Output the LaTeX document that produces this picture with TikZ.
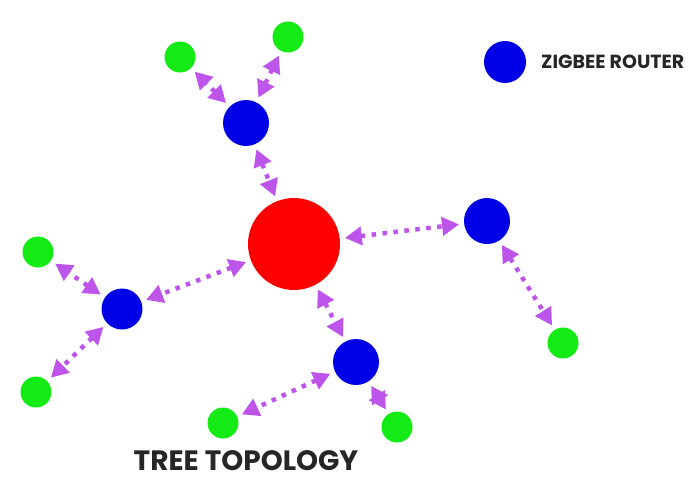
\documentclass[tikz,border=0pt]{standalone}
\usepackage{fontspec}
\setmainfont{Poppins}
\usetikzlibrary{arrows.meta}
\definecolor{linkc}{RGB}{190,85,235}
\definecolor{hubred}{RGB}{255,0,0}
\definecolor{routerblue}{RGB}{0,0,230}
\definecolor{enddevgreen}{RGB}{20,235,20}
\tikzset{
  hub/.style={circle, fill=hubred, minimum size=92pt, inner sep=0pt},
  router/.style={circle, fill=routerblue, minimum size=46pt, inner sep=0pt},
  smallrouter/.style={circle, fill=routerblue, minimum size=41pt, inner sep=0pt},
  enddev/.style={circle, fill=enddevgreen, minimum size=31pt, inner sep=0pt},
  link/.style={draw=linkc, line width=4.5pt, dash pattern=on 4.5pt off 6.5pt,
    {Triangle[length=17pt,width=18pt]}-{Triangle[length=17pt,width=18pt]},
    shorten <=5pt, shorten >=5pt},
  lbl/.style={font=\bfseries, text=black!85, inner sep=0pt}
}
\begin{document}
\begin{tikzpicture}[x=1pt,y=-1pt]
\useasboundingbox (0,0) rectangle (693,479);
% nodes
\node[hub] (c) at (294,244) {};
\node[router] (rt) at (246,123) {};
\node[router] (rr) at (487,221) {};
\node[smallrouter] (rl) at (122,309) {};
\node[router] (rb) at (356,362) {};
\node[enddev] (g1) at (180,57) {};
\node[enddev] (g2) at (288,37) {};
\node[enddev] (g3) at (563,343) {};
\node[enddev] (g4) at (38,252) {};
\node[enddev] (g5) at (36,392) {};
\node[enddev] (g6) at (223,423) {};
\node[enddev] (g7) at (397,427) {};
% legend
\node[router, minimum size=42pt] (leg) at (505,62) {};
\node[lbl, font=\bfseries\fontsize{19}{22}\selectfont, anchor=west] (legt) at (541,62) {ZIGBEE ROUTER};
% title
\node[lbl, font=\bfseries\fontsize{28}{32}\selectfont, anchor=base] (title) at (246,470) {TREE TOPOLOGY};
% links
\draw[link] (rt) -- (g1);
\draw[link] (rt) -- (g2);
\draw[link] (rt) -- (c);
\draw[link] (c) -- (rr);
\draw[link] (rr) -- (g3);
\draw[link] (c) -- (rl);
\draw[link] (rl) -- (g4);
\draw[link] (rl) -- (g5);
\draw[link] (c) -- (rb);
\draw[link] (rb) -- (g6);
\draw[link] (rb) -- (g7);
\end{tikzpicture}
\end{document}
